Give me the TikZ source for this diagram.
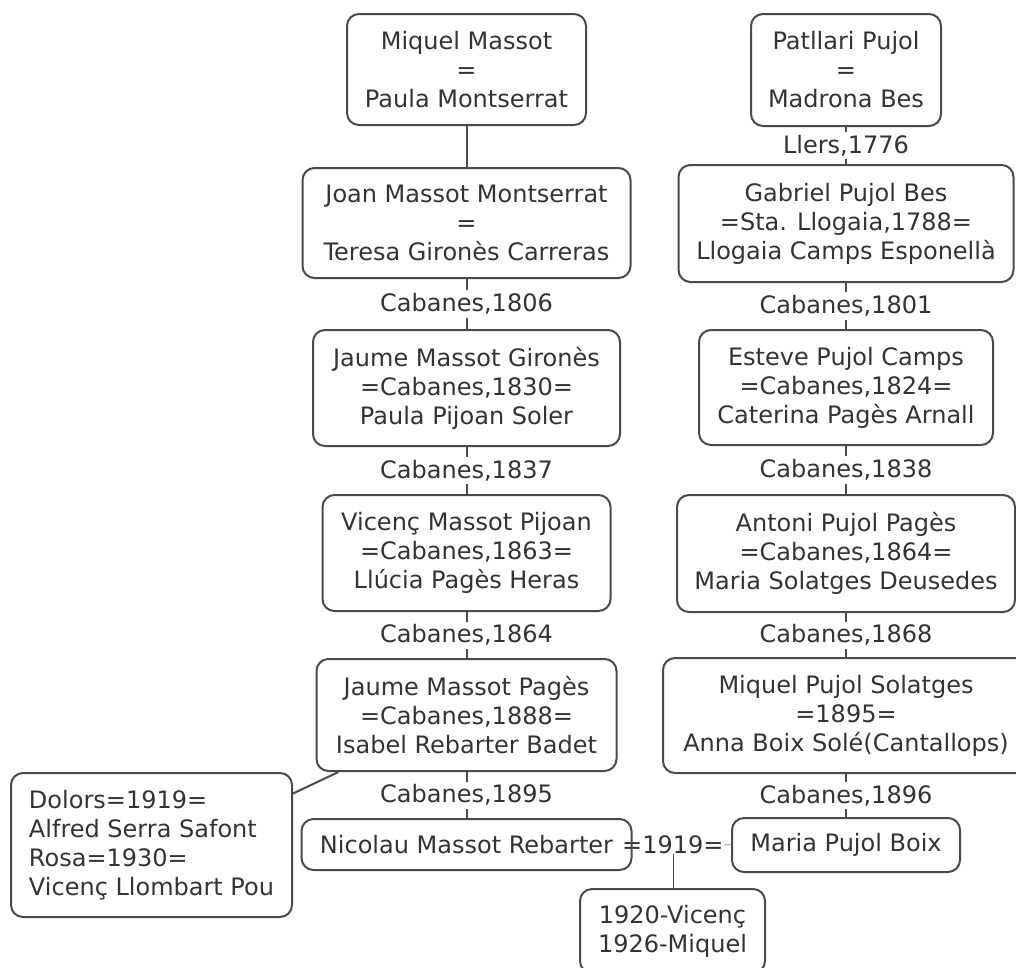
\documentclass[tikz,border=0pt]{standalone}
\usepackage{fontspec}
\setmainfont{DejaVu Sans}
\usepackage{tikz}
\usetikzlibrary{backgrounds}
\definecolor{boxline}{HTML}{4A4A4A}
\definecolor{boxtext}{HTML}{333333}
\tikzset{person/.style={draw=boxline,rounded corners=12pt,align=center,inner sep=0pt,text=boxtext},
	year/.style={fill=white,text=boxtext,inner xsep=1pt,inner ysep=3pt},
	tie/.style={draw=boxline}}

\begin{document}
\begin{tikzpicture}
	[x=1pt,y=-1pt,line width=2pt,every node/.style={font=\fontsize{24}{29}\selectfont}]
	\clip (0,0) rectangle (1016,967);

	\node [person,minimum width=239,minimum height=111] (mm) at (466.5,69.5) {Miquel Massot\\=\\Paula Montserrat};
	\node [person,minimum width=328,minimum height=110] (jmm) at (466.5,223) {Joan Massot Montserrat\\=\\Teresa Gironès Carreras};
	\node [person,minimum width=307,minimum height=116] (jmg) at (466.5,388) {Jaume Massot Gironès\\=Cabanes,1830=\\Paula Pijoan Soler};
	\node [person,minimum width=288,minimum height=116] (vmp) at (466.5,553) {Vicenç Massot Pijoan\\=Cabanes,1863=\\Llúcia Pagès Heras};
	\node [person,minimum width=300,minimum height=112] (jmp) at (466.5,715) {Jaume Massot Pagès\\=Cabanes,1888=\\Isabel Rebarter Badet};
	\node [person,minimum width=330,minimum height=51] (nmr) at (466.5,844.5) {Nicolau Massot Rebarter};

	\node [person,minimum width=190,minimum height=112] (pp) at (846,70) {Patllari Pujol\\=\\Madrona Bes};
	\node [person,minimum width=335,minimum height=117] (gpb) at (846,223.5) {Gabriel Pujol Bes\\=Sta. Llogaia,1788=\\Llogaia Camps Esponellà};
	\node [person,minimum width=294,minimum height=115] (epc) at (846,387.5) {Esteve Pujol Camps\\=Cabanes,1824=\\Caterina Pagès Arnall};
	\node [person,minimum width=338,minimum height=117] (app) at (846,553.5) {Antoni Pujol Pagès\\=Cabanes,1864=\\Maria Solatges Deusedes};
	\node [person,minimum width=366,minimum height=115] (mps) at (846,715.5) {Miquel Pujol Solatges\\=1895=\\Anna Boix Solé(Cantallops)};
	\node [person,minimum width=228,minimum height=54] (mpb) at (846,845) {Maria Pujol Boix};

	\node [person,minimum width=281,minimum height=144,align=left] (dol) at (151.5,845) {Dolors=1919=\\Alfred Serra Safont\\Rosa=1930=\\Vicenç Llombart Pou};
	\node [person,minimum width=185,minimum height=84] (kids) at (672.5,931) {1920-Vicenç\\1926-Miquel};

	\draw [tie] (mm.south) -- (jmm.north);
	\draw [tie] (jmm.south) -- (jmg.north) node [year,midway] {Cabanes,1806};
	\draw [tie] (jmg.south) -- (vmp.north) node [year,midway] {Cabanes,1837};
	\draw [tie] (vmp.south) -- (jmp.north) node [year,midway] {Cabanes,1864};
	\draw [tie] (jmp.south) -- (nmr.north) node [year,midway] {Cabanes,1895};
	\draw [tie] (jmp.204.5) -- (dol.20);

	\draw [tie] (pp.south) -- (gpb.north) node [year,midway] {Llers,1776};
	\draw [tie] (gpb.south) -- (epc.north) node [year,midway] {Cabanes,1801};
	\draw [tie] (epc.south) -- (app.north) node [year,midway] {Cabanes,1838};
	\draw [tie] (app.south) -- (mps.north) node [year,midway] {Cabanes,1868};
	\draw [tie] (mps.south) -- (mpb.north) node [year,midway] {Cabanes,1896};

	\begin{pgfonlayer}{background}
		\draw [tie] (nmr) -- (mpb) node [year,pos=0.41,inner sep=0pt] (wed) {=1919=};
	\end{pgfonlayer}
	\draw [tie] (wed.south) -- (wed.south |- kids.north);
\end{tikzpicture}
\end{document}
